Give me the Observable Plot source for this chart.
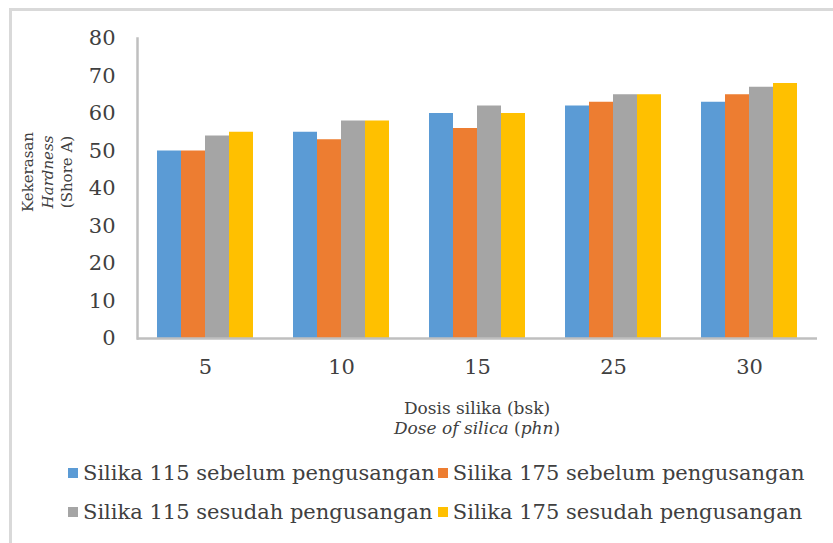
<!DOCTYPE html>
<html>
<head>
<meta charset="utf-8">
<script src="https://cdn.jsdelivr.net/npm/d3@7"></script>
<script src="https://cdn.jsdelivr.net/npm/@observablehq/plot@0.6"></script>
<style>
  html, body { margin: 0; padding: 0; background: #fff; }
  #wrap { position: relative; width: 833px; height: 543px; overflow: hidden; background: #fff; font-family: "DejaVu Serif", serif; color: #404040; }
  #outer { position: absolute; left: 9px; top: 8px; width: 900px; height: 600px; border-left: 3px solid #d9d9d9; border-top: 3px solid #d9d9d9; }
  #chart { position: absolute; left: 0; top: 0; }
  #ylabel { position: absolute; left: 48px; top: 172px; transform: translate(-50%, -50%) rotate(-90deg); white-space: nowrap; text-align: center; font-size: 15px; line-height: 19.5px; }
  #xtitle { position: absolute; left: 477px; top: 398px; transform: translateX(-50%); white-space: nowrap; text-align: center; font-size: 17px; line-height: 20px; }
  #legend { position: absolute; left: 68px; top: 453px; display: grid; grid-template-columns: auto auto; column-gap: 3px; grid-auto-rows: 39px; font-size: 21px; }
  .item { display: flex; align-items: center; white-space: nowrap; }
  .sw { width: 10px; height: 10px; margin-right: 5px; flex: none; }
</style>
</head>
<body>
<div id="wrap">
  <div id="outer"></div>
  <div id="chart"></div>
  <div id="ylabel">Kekerasan<br><i>Hardness</i><br>(Shore A)</div>
  <div id="xtitle">Dosis silika (bsk)<br><i>Dose of silica</i> (<i>phn</i>)</div>
  <div id="legend"></div>
</div>
<script>
// ---- data ----
const doses = ["5", "10", "15", "25", "30"];
const seriesNames = [
  "Silika 115 sebelum pengusangan",
  "Silika 175 sebelum pengusangan",
  "Silika 115 sesudah pengusangan",
  "Silika 175 sesudah pengusangan"
];
const silika115Sebelum = [50, 55, 60, 62, 63];
const silika175Sebelum = [50, 53, 56, 63, 65];
const silika115Sesudah = [54, 58, 62, 65, 67];
const silika175Sesudah = [55, 58, 60, 65, 68];
const yTicks = [0, 10, 20, 30, 40, 50, 60, 70, 80];
const colors = ["#5b9bd5", "#ed7d31", "#a5a5a5", "#ffc000"];

const seriesValues = [silika115Sebelum, silika175Sebelum, silika115Sesudah, silika175Sesudah];
const table = [];
doses.forEach((d, i) => {
  seriesNames.forEach((s, j) => {
    table.push({dose: d, series: s, value: seriesValues[j][i]});
  });
});

const plot = Plot.plot({
  width: 833,
  height: 390,
  marginTop: 38,
  marginBottom: 52,
  marginLeft: 135,
  marginRight: 15,
  style: {fontFamily: "DejaVu Serif, serif", color: "#404040", background: "transparent"},
  fx: {domain: doses, padding: 0, label: null},
  x: {domain: seriesNames, paddingInner: 0, paddingOuter: 0.728, axis: null},
  y: {domain: [0, 80], label: null},
  color: {domain: seriesNames, range: colors},
  marks: [
    Plot.barY(table, {fx: "dose", x: "series", y: "value", fill: "series"}),
    Plot.ruleY([0], {stroke: "#bfbfbf", strokeWidth: 2.5}),
    Plot.frame({anchor: "left", facetAnchor: "left", stroke: "#bfbfbf", strokeWidth: 2.5}),
    Plot.axisY({ticks: yTicks, tickSize: 0, tickPadding: 22, fontSize: 21, label: null}),
    Plot.axisFx({anchor: "bottom", tickSize: 0, tickPadding: 21, fontSize: 21, label: null})
  ]
});
document.getElementById("chart").appendChild(plot);

const legend = document.getElementById("legend");
seriesNames.forEach((s, j) => {
  const it = document.createElement("div");
  it.className = "item";
  const sw = document.createElement("span");
  sw.className = "sw";
  sw.style.background = colors[j];
  const tx = document.createElement("span");
  tx.textContent = s;
  it.appendChild(sw);
  it.appendChild(tx);
  legend.appendChild(it);
});
</script>
</body>
</html>
